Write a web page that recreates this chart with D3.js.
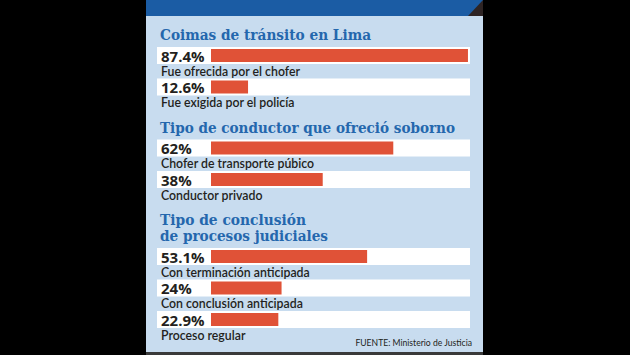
<!DOCTYPE html>
<html><head><meta charset="utf-8">
<script src="https://cdn.jsdelivr.net/npm/d3@7"></script>
<style>html,body{margin:0;padding:0;background:#000;}svg{display:block;}</style>
</head><body>
<svg id="c" width="630" height="355"></svg>
<script>
const sectionTitles = [
  ["Coimas de tránsito en Lima"],
  ["Tipo de conductor que ofreció soborno"],
  ["Tipo de conclusión", "de procesos judiciales"]
];
const categories = [
  "Fue ofrecida por el chofer",
  "Fue exigida por el policía",
  "Chofer de transporte púbico",
  "Conductor privado",
  "Con terminación anticipada",
  "Con conclusión anticipada",
  "Proceso regular"
];
const values = [87.4, 12.6, 62, 38, 53.1, 24, 22.9];
const valueLabels = ["87.4%", "12.6%", "62%", "38%", "53.1%", "24%", "22.9%"];
const groupOf = [0, 0, 1, 1, 2, 2, 2];
const source = "FUENTE: Ministerio de Justicia";

const svg = d3.select("#c");
const W = 630, H = 355;
const panelX0 = 146, panelX1 = 483;

svg.append("rect").attr("width", W).attr("height", H).attr("fill", "#000");
svg.append("rect").attr("x", panelX0).attr("y", 0).attr("width", panelX1 - panelX0).attr("height", 352).attr("fill", "#c8dcef");
svg.append("rect").attr("x", panelX0).attr("y", 352).attr("width", panelX1 - panelX0).attr("height", 3).attr("fill", "#3a3a3a");
// header strip
svg.append("rect").attr("x", panelX0).attr("y", 0).attr("width", panelX1 - panelX0).attr("height", 16).attr("fill", "#1b5ca4");
svg.append("path").attr("d", `M${panelX1},0 L${panelX1},16 L${panelX1 - 15},16 Z`).attr("fill", "#2e2424");

const x = d3.scaleLinear().domain([0, 100]).range([211, 505]);
const whiteX0 = 157, whiteX1 = 470, rowH = 17, inset = 2;

// layout cursor
let y = 40;
const titleLines = [];
const rowTops = [];
sectionTitles.forEach((lines, g) => {
  lines.forEach((t, i) => {
    titleLines.push({ text: t, y: y });
    if (i < lines.length - 1) y += 16;
  });
  y += 7;
  const idx = groupOf.map((gg, i) => gg === g ? i : -1).filter(i => i >= 0);
  idx.forEach((i, k) => {
    rowTops[i] = y;
    if (k < idx.length - 1) y += 31.5;
  });
  y += 54;
});

const titleWidths = { "Coimas de tránsito en Lima": 211, "Tipo de conductor que ofreció soborno": 295, "Tipo de conclusión": 146, "de procesos judiciales": 168 };

svg.selectAll("text.title").data(titleLines).join("text")
  .attr("class", "title")
  .attr("x", 160).attr("y", d => d.y)
  .attr("font-family", "'DejaVu Serif', serif").attr("font-weight", "bold")
  .attr("font-size", 15).attr("fill", "#2467ad")
  .attr("textLength", d => titleWidths[d.text]).attr("lengthAdjust", "spacingAndGlyphs")
  .text(d => d.text);

const rows = values.map((v, i) => ({ v, i, top: rowTops[i] }));
const g = svg.append("g");
g.selectAll("rect.bg").data(rows).join("rect").attr("class", "bg")
  .attr("x", whiteX0).attr("y", d => d.top).attr("width", whiteX1 - whiteX0).attr("height", rowH).attr("fill", "#fff");
g.selectAll("rect.bar").data(rows).join("rect").attr("class", "bar")
  .attr("x", x(0)).attr("y", d => d.top + inset).attr("width", d => x(d.v) - x(0)).attr("height", rowH - 2 * inset).attr("fill", "#e05237");
g.selectAll("text.val").data(rows).join("text").attr("class", "val")
  .attr("x", 161).attr("y", d => d.top + 14.5)
  .attr("font-family", "'Open Sans', sans-serif").attr("font-weight", "bold").attr("font-size", 15).attr("fill", "#231f20")
  .text(d => valueLabels[d.i]);
g.selectAll("text.cat").data(rows).join("text").attr("class", "cat")
  .attr("x", 161).attr("y", d => d.top + 28.5)
  .attr("font-family", "Lato, sans-serif").attr("font-weight", "600").attr("font-size", 12.3).attr("fill", "#231f20")
  .text(d => categories[d.i]);

svg.append("text").attr("x", 472).attr("y", 346).attr("text-anchor", "end")
  .attr("font-family", "Lato, sans-serif").attr("font-size", 8.6).attr("fill", "#231f20")
  .text(source);
</script>
</body></html>
